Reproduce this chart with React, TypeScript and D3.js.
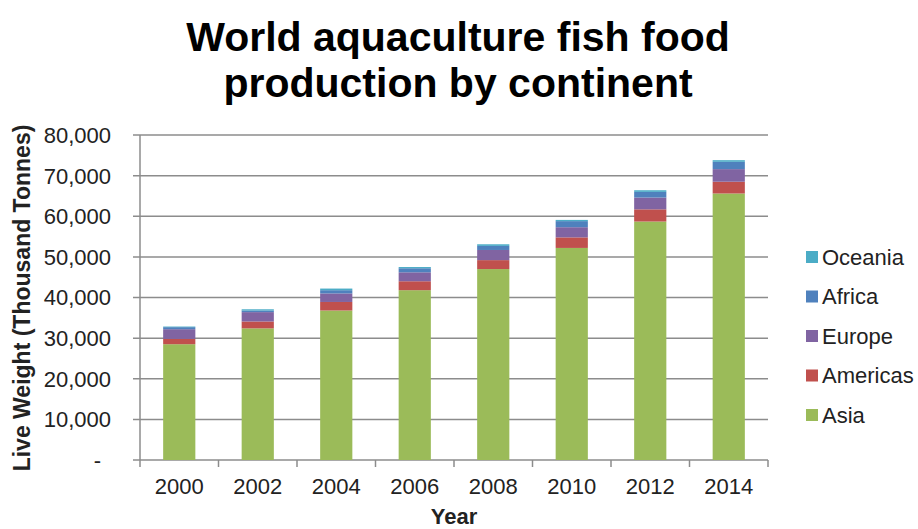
import React from "react";
import * as d3 from "d3";

const years = ["2000", "2002", "2004", "2006", "2008", "2010", "2012", "2014"];
const asia = [28500, 32400, 36800, 41800, 47000, 52200, 58700, 65600];
const americas = [1300, 1700, 2100, 2200, 2200, 2600, 3000, 2900];
const europe = [2400, 2300, 2100, 2200, 2500, 2500, 2900, 3100];
const africa = [500, 400, 800, 1000, 1000, 1500, 1400, 1800];
const oceania = [150, 300, 400, 300, 400, 300, 400, 400];
const seriesNames = ["Asia", "Americas", "Europe", "Africa", "Oceania"];
const seriesColors = ["#9BBB59", "#C0504D", "#8064A2", "#4F81BD", "#4BACC6"];
const yTicks = [0, 10000, 20000, 30000, 40000, 50000, 60000, 70000, 80000];

const W = 918;
const H = 529;
const M = { left: 140, right: 768, top: 135, bottom: 460 };
const FONT = "'Liberation Sans', Arial, sans-serif";

export default function App() {
  const seriesVals = [asia, americas, europe, africa, oceania];
  const rows = years.map((y, i) => {
    const r: any = { year: y };
    seriesNames.forEach((n, k) => (r[n] = seriesVals[k][i]));
    return r;
  });
  const stacked = d3.stack().keys(seriesNames)(rows);
  const x = d3.scaleBand().domain(years).range([M.left, M.right]).paddingInner(0.59).paddingOuter(0.295);
  const xb = d3.scaleBand().domain(years).range([M.left, M.right]);
  const y = d3.scaleLinear().domain([0, 80000]).range([M.bottom, M.top]);
  const fmt = d3.format(",");
  const gridColor = "#8c8c8c";

  return (
    <svg width={W} height={H} style={{ position: "absolute", left: 0, top: 0, background: "#fff" }} fontFamily={FONT}>
      <text x={458} y={51} textAnchor="middle" fontSize={41} fontWeight="bold" fill="#000">
        World aquaculture fish food
      </text>
      <text x={458} y={97} textAnchor="middle" fontSize={41} fontWeight="bold" fill="#000">
        production by continent
      </text>
      {yTicks.map((t) => (
        <g key={t}>
          <line x1={M.left - 7} x2={M.right} y1={y(t)} y2={y(t)} stroke={gridColor} strokeWidth={1.5} />
          <text x={t === 0 ? 101 : 111} y={y(t)} dy="0.36em" textAnchor="end" fontSize={22} fill="#222">
            {t === 0 ? "-" : fmt(t)}
          </text>
        </g>
      ))}
      <line x1={M.left} x2={M.left} y1={M.top} y2={M.bottom} stroke={gridColor} strokeWidth={1.5} />
      {[...years.map((yy) => xb(yy)!), M.right].map((xx, i) => (
        <line key={i} x1={xx} x2={xx} y1={M.bottom} y2={M.bottom + 7} stroke={gridColor} strokeWidth={1.5} />
      ))}
      {stacked.map((s, k) => (
        <g key={s.key} fill={seriesColors[k]}>
          {s.map((d, i) => (
            <rect key={i} x={x(years[i])} width={x.bandwidth()} y={y(d[1])} height={y(d[0]) - y(d[1])} />
          ))}
        </g>
      ))}
      {years.map((yy) => (
        <text key={yy} x={xb(yy)! + xb.bandwidth() / 2} y={494} textAnchor="middle" fontSize={22} fill="#222">
          {yy}
        </text>
      ))}
      <text x={454} y={524} textAnchor="middle" fontSize={22} fontWeight="bold" fill="#222">
        Year
      </text>
      <text
        transform={`translate(30, ${298}) rotate(-90)`}
        textAnchor="middle"
        fontSize={23}
        fontWeight="bold"
        fill="#222"
      >
        Live Weight (Thousand Tonnes)
      </text>
      {seriesNames
        .map((n, k) => ({ n, c: seriesColors[k] }))
        .reverse()
        .map((d, i) => (
          <g key={d.n} transform={`translate(806, ${257 + i * 39.5})`}>
            <rect x={0} y={-6} width={12} height={12} fill={d.c} />
            <text x={16} y={0} dy="0.36em" fontSize={22} fill="#222">
              {d.n}
            </text>
          </g>
        ))}
    </svg>
  );
}
